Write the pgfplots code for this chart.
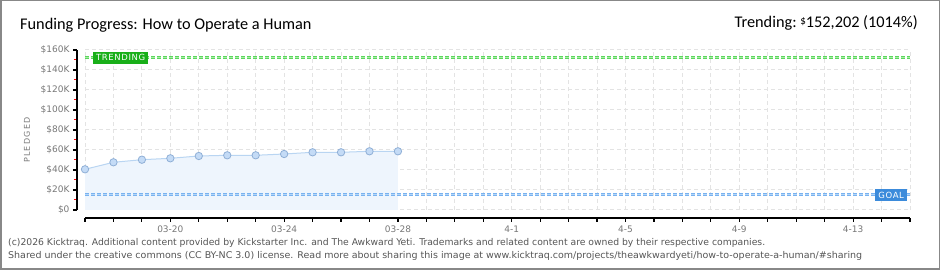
\documentclass[border=0pt]{standalone}
\usepackage{pgfplots}
\pgfplotsset{compat=1.18}
\usepackage{fontspec}
\setmainfont{Carlito}
\newfontfamily\tickfont{DejaVu Sans}
\newfontfamily\footfont{DejaVu Sans Condensed}
\definecolor{areablue}{HTML}{EEF5FD}
\definecolor{lineblue}{HTML}{B9D5F2}
\definecolor{markfill}{HTML}{C4DBF6}
\definecolor{markdraw}{HTML}{8FAFD6}
\definecolor{goalouter}{HTML}{78B2F0}
\definecolor{goalinner}{HTML}{B4D6F8}
\definecolor{trendouter}{HTML}{5CD65C}
\definecolor{trendinner}{HTML}{A6EEA6}
\definecolor{trendbox}{HTML}{19AF19}
\definecolor{goalbox}{HTML}{3C8BDB}
\definecolor{gridgray}{HTML}{E3E3E3}
\definecolor{tickgray}{HTML}{777777}
\definecolor{framegray}{HTML}{888888}
\definecolor{footgray}{HTML}{555555}
\begin{document}
\begin{tikzpicture}
\path[use as bounding box] (0pt,0pt) rectangle (940pt,270pt);
\draw[framegray, line width=1.5pt] (0.75pt,0.75pt) rectangle (939.25pt,269.25pt);
\node[anchor=base west, inner sep=0pt, font=\fontsize{16.3}{16.3}\selectfont] at (20pt,240pt) {Funding Progress: How to Operate a Human};
\node[anchor=base east, inner sep=0pt, font=\fontsize{16.3}{16.3}\selectfont] at (918pt,242pt) {Trending:\ \raisebox{3pt}{\fontsize{11}{11}\selectfont\$}152,202 (1014\%)};
\node[anchor=base west, inner sep=0pt, text=footgray, font=\footfont\fontsize{9.3}{9.3}\selectfont] at (8pt,24pt) {\resizebox{757pt}{\height}{(c)2026 Kicktraq. Additional content provided by Kickstarter Inc. and The Awkward Yeti. Trademarks and related content are owned by their respective companies.}};
\node[anchor=base west, inner sep=0pt, text=footgray, font=\footfont\fontsize{9.3}{9.3}\selectfont] at (8pt,11pt) {\resizebox{854pt}{\height}{Shared under the creative commons (CC BY-NC 3.0) license. Read more about sharing this image at www.kicktraq.com/projects/theawkwardyeti/how-to-operate-a-human/\#sharing}};
\node[rotate=90, inner sep=0pt, text=tickgray, font=\tickfont\fontsize{8}{8}\selectfont] at (27pt,130pt) {P\,L\,E\,D\,G\,E\,D};
\begin{axis}[
  at={(85pt,60pt)}, anchor=south west,
  scale only axis, width=825pt, height=160pt,
  xmin=0, xmax=29, ymin=0, ymax=160,
  axis lines=left, axis line shift=8pt,
  axis line style={-, black, line width=1.2pt},
  xtick={0,...,29},
  xticklabels={,,,03-20,,,,03-24,,,,03-28,,,,4-1,,,,4-5,,,,4-9,,,,4-13,,},
  ytick={0,20,...,160},
  yticklabels={\$0,\$20K,\$40K,\$60K,\$80K,\$100K,\$120K,\$140K,\$160K},
  minor y tick num=1,
  minor tick style={red, line width=1pt},
  major tick style={black, line width=1.2pt},
  tick align=outside, major tick length=4pt, minor tick length=3pt,
  grid=major,
  major grid style={gridgray, line width=1pt, dash pattern=on 4pt off 3pt},
  ticklabel style={font=\tickfont\fontsize{9}{9}\selectfont, text=tickgray},
  clip=false,
]
\addplot[draw=none, fill=areablue] coordinates {
(0,40.7) (1,47.7) (2,50.3) (3,51.7) (4,54) (5,54.7) (6,54.7) (7,56) (8,57.7) (9,57.7) (10,58.7) (11,58.7)} \closedcycle;
\addplot[lineblue, line width=1pt, mark=*, mark size=3.7pt, mark options={fill=markfill, draw=markdraw, line width=0.8pt}] coordinates {
(0,40.7) (1,47.7) (2,50.3) (3,51.7) (4,54) (5,54.7) (6,54.7) (7,56) (8,57.7) (9,57.7) (10,58.7) (11,58.7)};
\addplot[goalouter, line width=3pt, dash pattern=on 4pt off 2pt] coordinates {(0,15) (29,15)};
\addplot[goalinner, line width=1pt, dash pattern=on 4pt off 2pt] coordinates {(0,15) (29,15)};
\addplot[trendouter, line width=3pt, dash pattern=on 4pt off 2pt] coordinates {(0,152.202) (29,152.202)};
\addplot[trendinner, line width=1pt, dash pattern=on 4pt off 2pt] coordinates {(0,152.202) (29,152.202)};
\node[anchor=west, fill=trendbox, text=white, inner xsep=3pt, inner ysep=2pt, minimum height=12pt, font=\tickfont\fontsize{8.5}{8.5}\selectfont] at (axis cs:0.28,152.202) {T\kern0.6pt R\kern0.6pt E\kern0.6pt N\kern0.6pt D\kern0.6pt I\kern0.6pt N\kern0.6pt G};
\node[anchor=east, fill=goalbox, text=white, inner xsep=3pt, inner ysep=2pt, minimum height=12pt, font=\tickfont\fontsize{8.5}{8.5}\selectfont] at (axis cs:28.9,15) {G\kern0.6pt O\kern0.6pt A\kern0.6pt L};
\end{axis}
\end{tikzpicture}
\end{document}
